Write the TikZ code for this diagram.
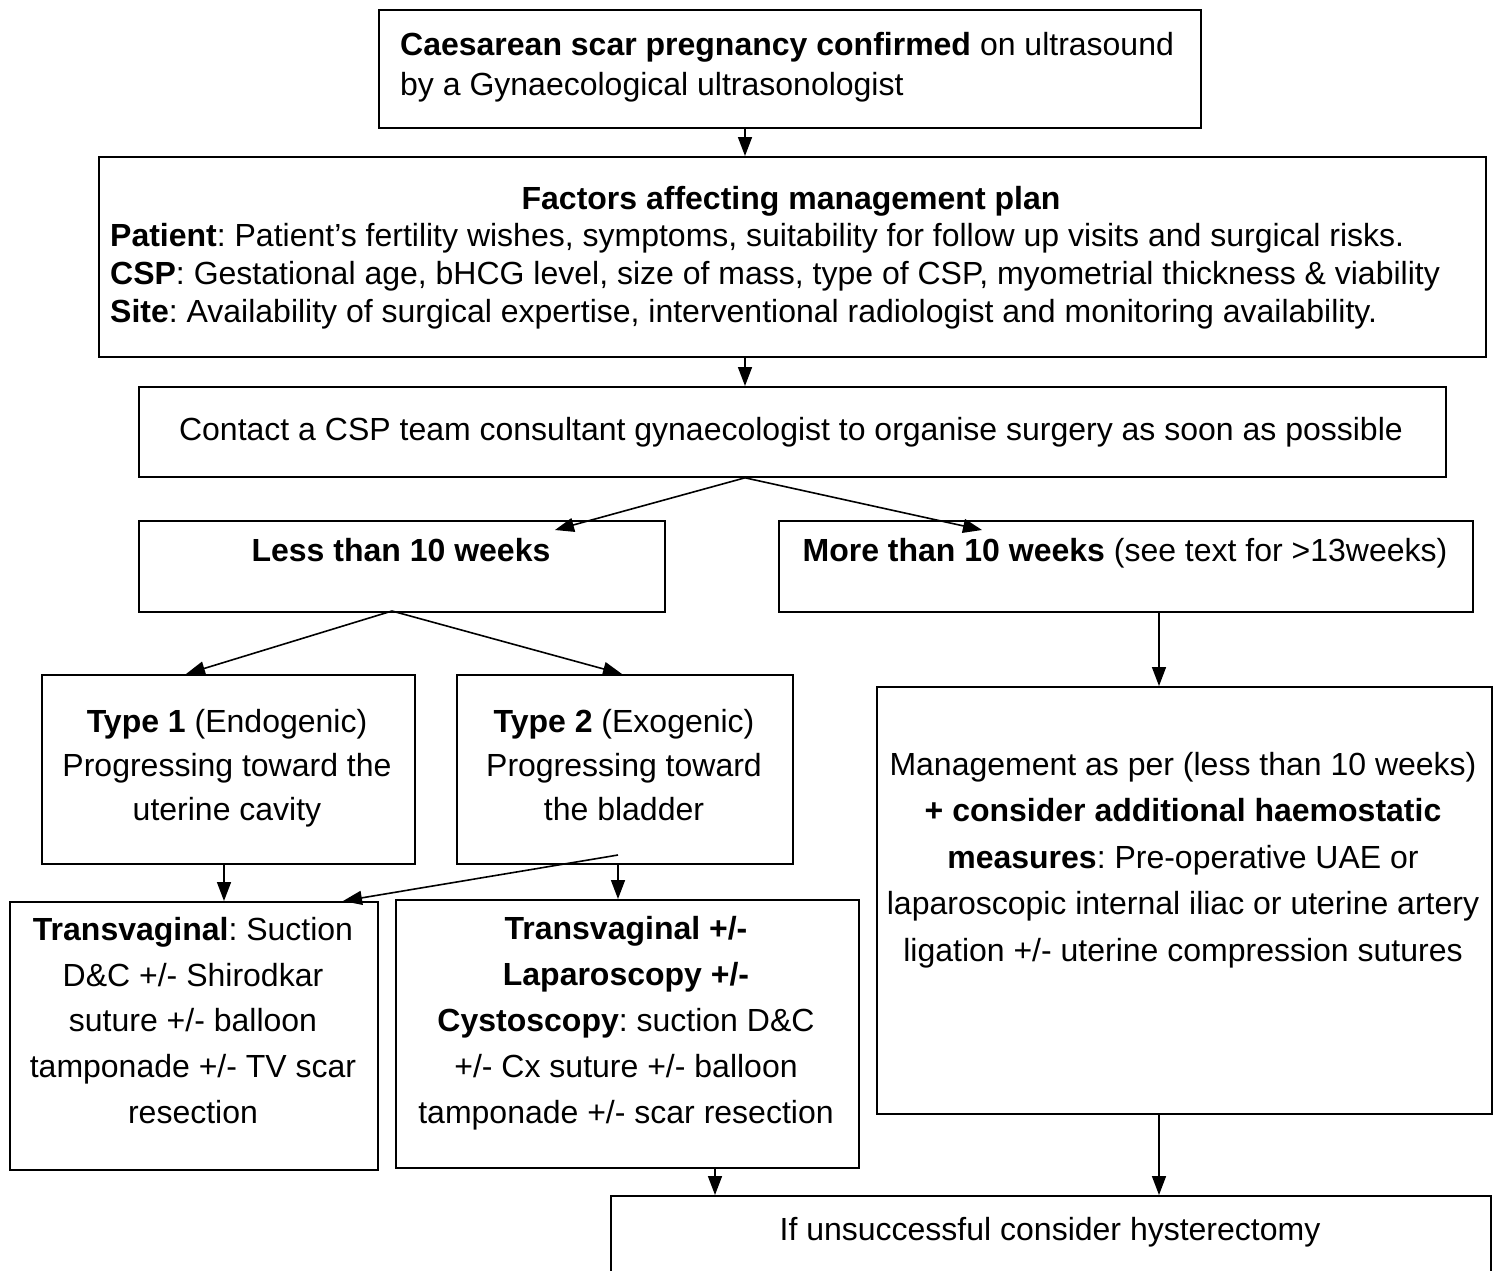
\documentclass[tikz,border=0pt]{standalone}
\usepackage{fontspec}
\setmainfont{Liberation Sans}
\usetikzlibrary{arrows.meta}
\frenchspacing
\begin{document}
\begin{tikzpicture}[x=1pt,y=-1pt,
  box/.style={draw, line width=1.8pt, inner sep=0pt, anchor=north west},
  txt/.style={inner sep=0pt, anchor=north, align=center,
    execute at begin node=\rule{0pt}{25pt}},
  ltxt/.style={inner sep=0pt, anchor=north west, align=left,
    execute at begin node=\rule{0pt}{25pt}},
  arr/.style={-{Triangle[length=19pt,width=14pt]}, line width=1.6pt}]
\useasboundingbox (0,0) rectangle (1502,1270);
\fill[white] (0,0) rectangle (1502,1270);
% boxes
\node[box, minimum width=822pt, minimum height=118pt] (top) at (378,9) {};
\node[box, minimum width=1387pt, minimum height=200pt] (fac) at (98,156) {};
\node[box, minimum width=1307pt, minimum height=90pt] (con) at (138,386) {};
\node[box, minimum width=526pt, minimum height=91pt] (less) at (138,520) {};
\node[box, minimum width=694pt, minimum height=91pt] (more) at (778,520) {};
\node[box, minimum width=373pt, minimum height=189pt] (t1) at (41,674) {};
\node[box, minimum width=336pt, minimum height=189pt] (t2) at (456,674) {};
\node[box, minimum width=615pt, minimum height=427pt] (mg) at (876,686) {};
\node[box, minimum width=368pt, minimum height=268pt] (tv1) at (9,901) {};
\node[box, minimum width=463pt, minimum height=268pt] (tv2) at (395,899) {};
\node[box, minimum width=880pt, minimum height=110pt] (hy) at (610,1195) {};
% texts
\node[ltxt, font=\fontsize{32}{40}\selectfont] (toptx) at (400,32)
  {\textbf{Caesarean scar pregnancy confirmed} on ultrasound\\by a Gynaecological ultrasonologist};
\node[txt, font=\fontsize{32}{38}\selectfont] (factx) at (791,184) {\textbf{Factors affecting management plan}};
\node[ltxt, font=\fontsize{32}{38}\selectfont] (facbody) at (110,223)
  {\textbf{Patient}: Patient’s fertility wishes, symptoms, suitability for follow up visits and surgical risks.\\
   \textbf{CSP}: Gestational age, bHCG level, size of mass, type of CSP, myometrial thickness \& viability\\
   \textbf{Site}: Availability of surgical expertise, interventional radiologist and monitoring availability.};
\node[txt, font=\fontsize{32}{38}\selectfont] (contx) at (791,415)
  {Contact a CSP team consultant gynaecologist to organise surgery as soon as possible};
\node[txt, font=\fontsize{32}{38}\selectfont] (lesstx) at (401,536) {\textbf{Less than 10 weeks}};
\node[txt, font=\fontsize{32}{38}\selectfont] (moretx) at (1125,536) {\textbf{More than 10 weeks} (see text for >13weeks)};
\node[txt, font=\fontsize{32}{44}\selectfont] (t1tx) at (227,709)
  {\textbf{Type 1} (Endogenic)\\Progressing toward the\\uterine cavity};
\node[txt, font=\fontsize{32}{44}\selectfont] (t2tx) at (624,709)
  {\textbf{Type 2} (Exogenic)\\Progressing toward\\the bladder};
\node[txt, font=\fontsize{32}{46.5}\selectfont] (mgtx) at (1183,752)
  {Management as per (less than 10 weeks)\\\textbf{+ consider additional haemostatic}\\\textbf{measures}: Pre-operative UAE or\\laparoscopic internal iliac or uterine artery\\ligation +/- uterine compression sutures};
\node[txt, font=\fontsize{32}{45.7}\selectfont] (tv1tx) at (193,917)
  {\textbf{Transvaginal}: Suction\\D\&C +/- Shirodkar\\suture +/- balloon\\tamponade +/- TV scar\\resection};
\node[txt, font=\fontsize{32}{46}\selectfont] (tv2tx) at (626,916)
  {\textbf{Transvaginal +/-}\\\textbf{Laparoscopy +/-}\\\textbf{Cystoscopy}: suction D\&C\\+/- Cx suture +/- balloon\\tamponade +/- scar resection};
\node[txt, font=\fontsize{32}{38}\selectfont] (hytx) at (1050,1215) {If unsuccessful consider hysterectomy};
% connector helper coordinates
\coordinate (sp) at (745,0);
\coordinate (lessTip) at (555,530);
\coordinate (moreTip) at (982,530);
\coordinate (lessApex) at (392,611);
\coordinate (t1Tip) at (186,674);
\coordinate (t2Tip) at (622,674);
\coordinate (diagStart) at (618,855);
\coordinate (diagTip) at (343,901);
% connectors
\draw[arr] (top.south -| sp) -- (fac.north -| sp);
\draw[arr] (fac.south -| sp) -- (con.north -| sp);
\draw[arr] (con.south -| sp) -- (lessTip);
\draw[arr] (con.south -| sp) -- (moreTip);
\draw[arr] (lessApex) -- (t1Tip);
\draw[arr] (lessApex) -- (t2Tip);
\draw[arr] (more.south -| 1159,0) -- (mg.north -| 1159,0);
\draw[arr] (t1.south -| 224,0) -- (tv1.north -| 224,0);
\draw[arr] (t2.south -| 618,0) -- (tv2.north -| 618,0);
\draw[arr] (diagStart) -- (diagTip);
\draw[arr] (tv2.south -| 715,0) -- (hy.north -| 715,0);
\draw[arr] (mg.south -| 1159,0) -- (hy.north -| 1159,0);
\end{tikzpicture}
\end{document}
